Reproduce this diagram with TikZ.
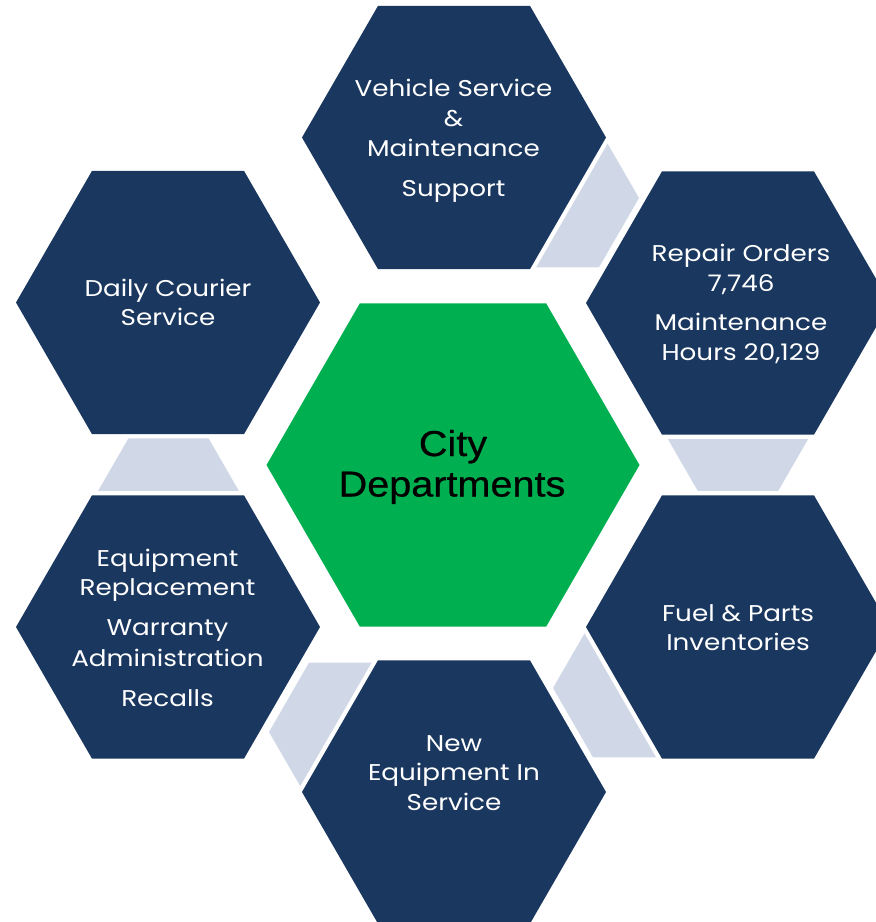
\documentclass[tikz,border=0pt]{standalone}
\usepackage{fontspec}
\newfontfamily\hexfont[FakeStretch=1.15]{Poppins}
\newfontfamily\cityfont[FakeStretch=1.1,FakeBold=0.6]{Liberation Sans}
\definecolor{navy}{HTML}{1A375F}
\definecolor{lightblue}{HTML}{D0D7E6}
\definecolor{hexgreen}{HTML}{00B050}
\tikzset{
  lbl/.style={text=white, font=\hexfont\fontsize{22.8}{26}\selectfont, inner sep=0pt, anchor=base},
  citylbl/.style={text=black, font=\cityfont\fontsize{36}{40}\selectfont, inner sep=0pt, anchor=base},
}
\begin{document}
\begin{tikzpicture}[x=1pt,y=-1pt]
\useasboundingbox (0,0) rectangle (876,922);
\clip (0,0) rectangle (876,922);
% centres
\coordinate (ctr) at (453,465);
\coordinate (top) at (454,137.5);
\coordinate (ur) at (738,303);
\coordinate (lr) at (738,627);
\coordinate (bot) at (454,792);
\coordinate (ll) at (168,627);
\coordinate (ul) at (168,302.5);
% connector hexagons
\coordinate (g0) at (738,422);
\coordinate (g1) at (559,198);
\coordinate (g5) at (633,688);
\coordinate (g4) at (349,732);
\coordinate (g3) at (168.5,507.5);
\foreach \c in {g0,g1,g3,g4,g5}
  \fill[lightblue] (\c) +(0:80) -- +(60:80) -- +(120:80) -- +(180:80) -- +(240:80) -- +(300:80) -- cycle;
% outer hexagons with white rim
\foreach \c in {top,ur,lr,bot,ll,ul}{
  \fill[white] (\c) +(0:157) -- +(60:157) -- +(120:157) -- +(180:157) -- +(240:157) -- +(300:157) -- cycle;
  \fill[navy] (\c) +(0:152) -- +(60:152) -- +(120:152) -- +(180:152) -- +(240:152) -- +(300:152) -- cycle;
}
% centre hexagon
\fill[hexgreen] (ctr) +(0:186.5) -- +(60:186.5) -- +(120:186.5) -- +(180:186.5) -- +(240:186.5) -- +(300:186.5) -- cycle;
% texts
\node[citylbl] (c1) at (453,456) {City};
\node[citylbl] (c2) at (452,496.5) {Departments};

\node[lbl] (t1) at (453.5,96.7) {Vehicle Service};
\node[lbl] (t2) at (453.5,126.7) {\&};
\node[lbl] (t3) at (453.5,156) {Maintenance};
\node[lbl] (t4) at (453.5,196) {Support};

\node[lbl] (r1) at (741,261.7) {Repair Orders};
\node[lbl] (r2) at (741,291.7) {7,746};
\node[lbl] (r3) at (741,330.5) {Maintenance};
\node[lbl] (r4) at (741,360.5) {Hours 20,129};

\node[lbl] (d1) at (168,296.7) {Daily Courier};
\node[lbl] (d2) at (168,325.7) {Service};

\node[lbl] (f1) at (738,621.7) {Fuel \& Parts};
\node[lbl] (f2) at (738,650.7) {Inventories};

\node[lbl] (n1) at (454,751.7) {New};
\node[lbl] (n2) at (454,780.7) {Equipment In};
\node[lbl] (n3) at (454,810) {Service};

\node[lbl] (e1) at (167.5,566.5) {Equipment};
\node[lbl] (e2) at (167.5,595.7) {Replacement};
\node[lbl] (e3) at (167.5,635) {Warranty};
\node[lbl] (e4) at (167.5,666) {Administration};
\node[lbl] (e5) at (167.5,706.5) {Recalls};
\end{tikzpicture}
\end{document}
